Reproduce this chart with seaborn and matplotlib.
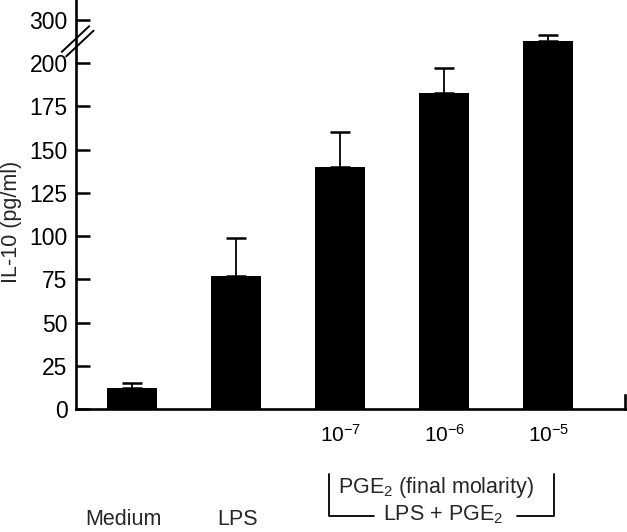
import numpy as np

import matplotlib
matplotlib.use("Agg")

import matplotlib.pyplot as plt
import seaborn as sns


groups = ["Medium", "LPS", "1e-7", "1e-6", "1e-5"]
il10_mean = [12, 77, 140, 183, 251]
il10_err = [3, 22, 20, 14, 13]
xtick_labels = ["", "", "$10^{-7}$", "$10^{-6}$", "$10^{-5}$"]
ytick_values = [0, 25, 50, 75, 100, 125, 150, 175, 200, 300]

BREAK = 200
SQUEEZE = 0.25

sns.set_style("ticks")
plt.rcParams["font.family"] = ["Liberation Sans", "DejaVu Sans"]
plt.rcParams["mathtext.fontset"] = "custom"
plt.rcParams["mathtext.rm"] = "Liberation Sans"
plt.rcParams["mathtext.it"] = "Liberation Sans"


def squeeze_fwd(y):
    y = np.asarray(y, dtype=float)
    return np.where(y <= BREAK, y, BREAK + (y - BREAK) * SQUEEZE)


def squeeze_inv(t):
    t = np.asarray(t, dtype=float)
    return np.where(t <= BREAK, t, BREAK + (t - BREAK) / SQUEEZE)


def px(x, y):
    """Pixel position in the 627x532 picture -> figure fraction."""
    return x / 627, 1 - y / 532


fig = plt.figure(figsize=(6.27, 5.32), dpi=100)
ax = fig.add_axes([76 / 627, 1 - 409 / 532, 549 / 627, 409 / 532])

sns.barplot(x=groups, y=il10_mean, color="black", saturation=1, width=0.48,
            linewidth=0, ax=ax)
n = len(groups)
ax.errorbar(np.arange(n), il10_mean, yerr=[np.zeros(n), il10_err], fmt="none",
            ecolor="black", elinewidth=1.3, capsize=7, capthick=1.8)

ax.set_yscale("function", functions=(squeeze_fwd, squeeze_inv))
ax.set_ylim(0, 346)
ax.set_xlim(-0.538, 4.736)
ax.set_yticks(ytick_values)
ax.set_yticklabels([str(v) for v in ytick_values], fontsize=16.5)
ax.set_xticks(range(n))
ax.set_xticklabels(xtick_labels, fontsize=15)
ax.minorticks_off()

ax.tick_params(axis="y", direction="in", length=10, width=1.8, pad=6, colors="black")
ax.tick_params(axis="x", length=0, pad=11, colors="black")

for side in ["left", "bottom", "right"]:
    ax.spines[side].set_linewidth(1.9)
    ax.spines[side].set_color("black")
ax.spines["top"].set_visible(False)
ax.spines["right"].set_bounds(0, 8)

ax.set_xlabel("")
ax.set_ylabel("IL-10 (pg/ml)", fontsize=15.5)
ax.yaxis.set_label_coords(-0.099, 0.457)

# axis break marks
for dx, dy in [(0, 0), (0.008, -0.011)]:
    ax.plot([-0.026 + dx, 0.024 + dx], [0.873 + dy, 0.936 + dy], color="black",
            lw=1.4, transform=ax.transAxes, clip_on=False)

# group labels under the axis
fig.text(*px(123, 525), "Medium", ha="center", va="baseline", fontsize=15.5)
fig.text(*px(238, 525), "LPS", ha="center", va="baseline", fontsize=15.5)
fig.text(*px(436, 493), "PGE$_2$ (final molarity)", ha="center", va="baseline", fontsize=15.5)
fig.text(*px(443, 520), "LPS + PGE$_2$", ha="center", va="baseline", fontsize=15.5)

for xs, ys in [([329, 329, 374], [474, 516, 516]), ([517, 554, 554], [516, 516, 474])]:
    pts = [px(x, y) for x, y in zip(xs, ys)]
    fig.add_artist(plt.Line2D([p[0] for p in pts], [p[1] for p in pts],
                              color="black", lw=1.3, transform=fig.transFigure))

fig.savefig("out.png", dpi=100)
plt.close(fig)
